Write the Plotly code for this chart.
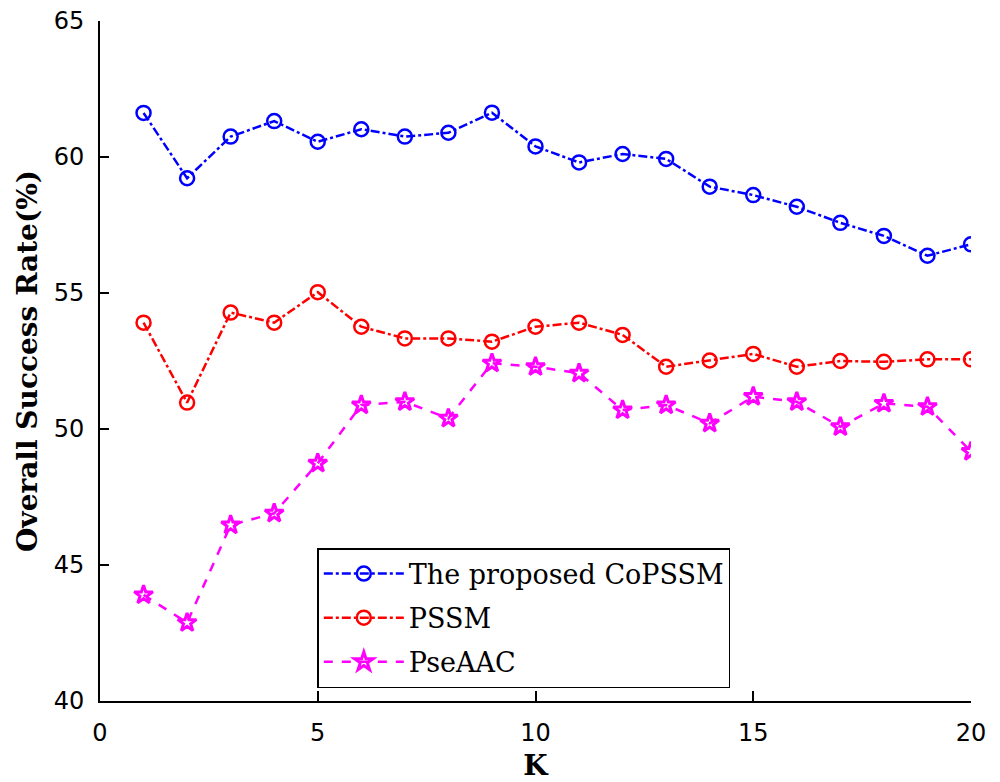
import plotly.graph_objects as go

K = list(range(1, 21))
copssm = [61.62, 59.22, 60.75, 61.32, 60.56, 61.02, 60.75, 60.89, 61.63, 60.39,
          59.80, 60.11, 59.93, 58.91, 58.60, 58.17, 57.58, 57.10, 56.37, 56.79]
pssm = [53.91, 50.97, 54.28, 53.91, 55.03, 53.76, 53.33, 53.33, 53.21, 53.76,
        53.91, 53.46, 52.29, 52.52, 52.76, 52.29, 52.50, 52.47, 52.56, 52.56]
pseaac = [43.90, 42.88, 46.47, 46.90, 48.74, 50.88, 51.00, 50.39, 52.42, 52.29,
          52.05, 50.70, 50.88, 50.21, 51.19, 51.00, 50.08, 50.94, 50.82, 49.17]

names = ["The proposed CoPSSM", "PSSM", "PseAAC"]
x_ticks = [0, 5, 10, 15, 20]
y_ticks = [40, 45, 50, 55, 60, 65]

fig = go.Figure()
fig.add_trace(go.Scatter(
    x=K, y=copssm, name=names[0], mode="lines+markers", legendgroup="a",
    line=dict(color="#0000FF", width=2.5, dash="dashdot"),
    marker=dict(symbol="circle-open", size=14, color="#0000FF", line=dict(width=2.5, color="#0000FF")),
))
fig.add_trace(go.Scatter(
    x=K, y=pssm, name=names[1], mode="lines+markers", legendgroup="b",
    line=dict(color="#FF0000", width=2.5, dash="dashdot"),
    marker=dict(symbol="circle-open", size=14, color="#FF0000", line=dict(width=2.5, color="#FF0000")),
))
fig.add_trace(go.Scatter(
    x=K, y=pseaac, name=names[2], mode="lines+markers", legendgroup="c",
    line=dict(color="#FF00FF", width=2.5, dash="dash"),
    marker=dict(symbol="star-open", size=14, color="#FF00FF", line=dict(width=3, color="#FF00FF")),
))

fig.update_layout(
    width=992, height=774,
    margin=dict(l=92, r=29, t=13, b=81, autoexpand=False),
    paper_bgcolor="white", plot_bgcolor="white",
    showlegend=True,
    legend=dict(
        x=0.2495, y=0.225, xanchor="left", yanchor="top",
        bordercolor="black", borderwidth=1.5, bgcolor="white",
        font=dict(family="DejaVu Serif", size=27, color="black"),
        itemwidth=80, tracegroupgap=6,
    ),
    xaxis=dict(
        range=[0, 20], tickvals=x_ticks, ticks="inside", ticklen=10, tickwidth=1.5,
        tickcolor="black", showline=True, linecolor="black", linewidth=2,
        showgrid=False, zeroline=False, mirror=False, automargin=False,
        tickfont=dict(family="DejaVu Sans", size=24, color="black"),
        ticklabelstandoff=9, ticklabeloverflow="allow",
        title=dict(text="<b>K</b>", font=dict(family="DejaVu Serif", size=28, color="black"), standoff=18),
    ),
    yaxis=dict(
        range=[40, 65], tickvals=y_ticks, ticks="inside", ticklen=9, tickwidth=1.5,
        tickcolor="black", showline=True, linecolor="black", linewidth=2,
        showgrid=False, zeroline=False, mirror=False, automargin=False,
        tickfont=dict(family="DejaVu Sans", size=24, color="black"),
        ticklabelstandoff=9, ticklabeloverflow="allow",
        title=dict(text="<b>Overall Success Rate(%)</b>", font=dict(family="DejaVu Serif", size=28, color="black"), standoff=8),
    ),
)

fig.write_html("out.html")
